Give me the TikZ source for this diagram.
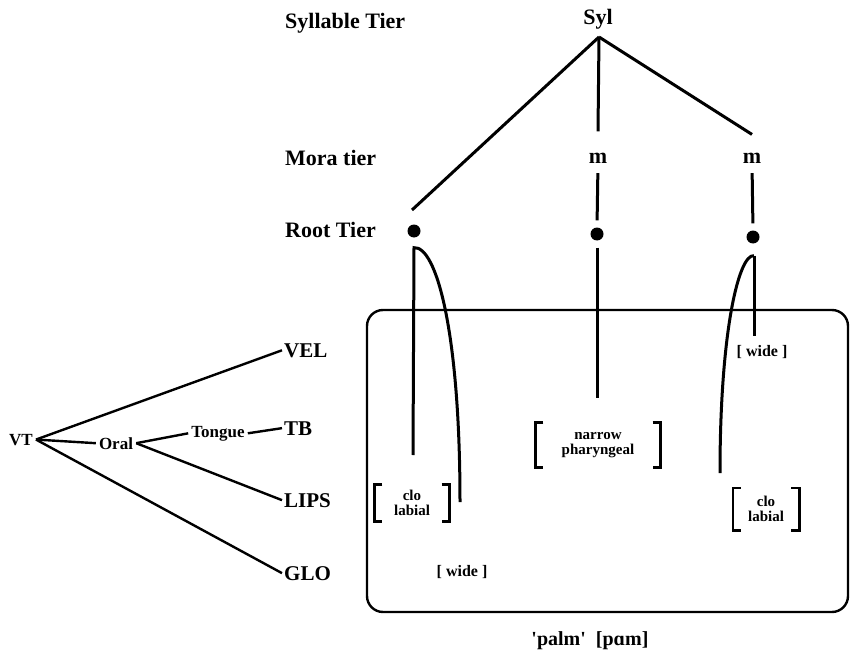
\documentclass[tikz,border=0pt]{standalone}
\usepackage{fontspec}
\setmainfont{Liberation Serif}
\begin{document}
\begin{tikzpicture}[x=1pt, y=-1pt]
	\tikzstyle{tier}   = [anchor=base west, inner sep=0pt, font=\fontsize{22}{24}\selectfont\bfseries]
	\tikzstyle{unit}   = [anchor=base, inner sep=0pt, font=\fontsize{22}{24}\selectfont\bfseries]
	\tikzstyle{artic}  = [anchor=base west, inner sep=2pt, font=\fontsize{21}{23}\selectfont\bfseries]
	\tikzstyle{sub}    = [anchor=base, inner sep=3pt, font=\fontsize{17}{19}\selectfont\bfseries]
	\tikzstyle{root}   = [circle, fill=black, minimum size=13pt, inner sep=0pt]
	\tikzstyle{feat}   = [align=center, inner sep=0pt, font=\fontsize{15}{15}\selectfont\bfseries]
	\tikzstyle{link}   = [line width=3pt]
	\tikzstyle{branch} = [line width=2.4pt]
	\tikzstyle{brk}    = [line width=2.6pt]

	\useasboundingbox (0,0) rectangle (855,661);

	% tiers
	\foreach \name/\text/\y in {syltier/Syllable Tier/29, moratier/Mora tier/165, roottier/Root Tier/237}
		\node[tier] (\name) at (285,\y) {\text};

	\node[unit] (syl) at (598,25) {Syl};
	\foreach \name/\x in {m2/598, m3/752}
		\node[unit] (\name) at (\x,163) {m};
	\foreach \name/\x/\y in {root1/414/231, root2/597/234, root3/753/237}
		\node[root] (\name) at (\x,\y) {};

	\coordinate (apex) at (599,37);
	\draw[link] (apex) -- ([shift={(-2pt,21pt)}]root1.center);
	\draw[link] (apex) -- ([yshift=21pt]m2.north);
	\draw[link] (apex) -- ([yshift=18pt]m3.north);
	\foreach \m/\r in {m2/root2, m3/root3}
		\draw[link, shorten <=10pt, shorten >=7pt] (\m.south) -- (\r.north);

	% features
	\node[feat, minimum width=75pt, minimum height=37pt] (clo1) at (412,503) {clo\\labial};
	\node[feat, minimum width=125pt, minimum height=45pt] (narrow) at (598,445) {narrow\\pharyngeal};
	\node[feat, minimum width=66pt, minimum height=42pt] (clo3) at (766,509) {clo\\labial};
	\foreach \b in {clo1, narrow, clo3} {
		\draw[brk] ([xshift=8pt]\b.north west) -- (\b.north west) -- (\b.south west) -- ([xshift=8pt]\b.south west);
		\draw[brk] ([xshift=-8pt]\b.north east) -- (\b.north east) -- (\b.south east) -- ([xshift=-8pt]\b.south east);
	}
	\node[feat, font=\fontsize{16}{16}\selectfont\bfseries] (wide1) at (462,572) {[ wide ]};
	\node[feat, font=\fontsize{16}{16}\selectfont\bfseries] (wide3) at (762,352) {[ wide ]};

	\coordinate (top1) at ([yshift=-10pt]root1.south);
	\coordinate (top3) at ([shift={(1pt,-12pt)}]root3.south);
	\coordinate (leg1) at (413,455);
	\coordinate (end1) at (460,502);
	\coordinate (end2) at (597,398);
	\coordinate (end3) at (720,473);

	\draw[link] (leg1) -- (top1) .. controls +(22,-2) and +(0,-172) .. (end1);
	\draw[link, shorten <=7pt] (root2.south) -- (end2);
	\draw[link, shorten >=9pt] (top3) -- (top3 |- wide3.north);
	\draw[link] (top3) .. controls +(-15,-2) and +(0,-143) .. (end3);

	\draw[line width=2.4pt, rounded corners=16pt] (367,310) rectangle (848,612);

	\node[anchor=base, font=\fontsize{20}{22}\selectfont\bfseries] (gloss) at (590,645) {\textquotesingle palm\textquotesingle\ \ [pɑm]};

	% vocal tract
	\node[sub] (vt) at (21,445) {VT};
	\node[sub] (oral) at (116,449) {Oral};
	\node[sub] (tongue) at (218,437) {Tongue};
	\foreach \name/\text/\y in {vel/VEL/357, tb/TB/435, lips/LIPS/507, glo/GLO/580}
		\node[artic] (\name) at (282,\y) {\text};

	\foreach \from/\to in {vt/vel, vt/oral, vt/glo, oral/tongue, tongue/tb, oral/lips}
		\draw[branch] (\from.east) -- (\to.west);
\end{tikzpicture}
\end{document}
